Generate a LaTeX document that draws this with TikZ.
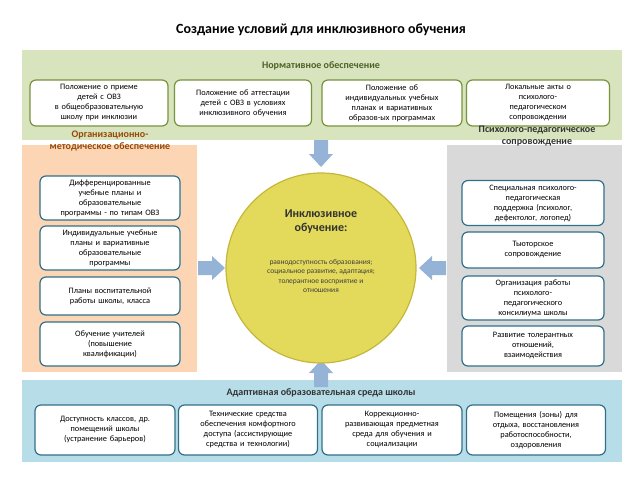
\documentclass[tikz,border=0pt]{standalone}
\usepackage{fontspec}
\setmainfont{Carlito}
\usetikzlibrary{positioning}
\definecolor{normfill}{HTML}{D7E4BD}
\definecolor{normline}{HTML}{77933C}
\definecolor{normtext}{HTML}{4F6228}
\definecolor{orgfill}{HTML}{FCD5B5}
\definecolor{orgtext}{HTML}{984807}
\definecolor{psyfill}{HTML}{D9D9D9}
\definecolor{envfill}{HTML}{B7DDE8}
\definecolor{boxline}{HTML}{31708A}
\definecolor{arrowblue}{HTML}{95B3D7}
\definecolor{circfill}{HTML}{E3D95A}
\definecolor{circline}{HTML}{C4B73C}
\tikzset{
  item/.style={draw=boxline, line width=1.2pt, rounded corners=6pt, fill=white,
    align=center, inner sep=1pt, font=\fontsize{8.3}{10}\selectfont},
  normitem/.style={item, draw=normline},
  bandtitle/.style={font=\fontsize{10}{12}\selectfont\bfseries, align=center},
}
\newcommand{\blockarrow}[2]{% start, direction
  \fill[arrowblue, shift={(#1)}, rotate=#2] (0,-7) -- (14,-7) -- (14,-12) -- (27,0) -- (14,12) -- (14,7) -- (0,7) -- cycle;}
\begin{document}
\begin{tikzpicture}[x=1pt, y=-1pt]
\useasboundingbox (0,0) rectangle (643,482);

% Title
\node[font=\fontsize{14}{16}\selectfont\bfseries] (title) at (321,30) {Создание условий для инклюзивного обучения};

% Bands and panels
\fill[normfill] (22,50) rectangle (622,140);
\fill[orgfill] (22,145) rectangle (197,372);
\fill[psyfill] (447,145) rectangle (622,372);
\fill[envfill] (22,380) rectangle (622,462);

% Arrows
\blockarrow{321,140}{-90}
\blockarrow{321,387}{90}
\blockarrow{198,268}{0}
\blockarrow{446,268}{180}

% Centre
\node[circle, fill=circfill, draw=circline, line width=1.2pt, minimum size=190pt] (centre) at (321,268) {};
\node[font=\fontsize{12}{14}\selectfont\bfseries, align=center, text=black!80] (centretitle) at (321,222) {Инклюзивное\\обучение:};
\node[font=\fontsize{7.5}{9.5}\selectfont, align=center, text=black!75] (centretext) at (321,276)
  {равнодоступность образования;\\социальное развитие, адаптация;\\толерантное восприятие и\\отношения};

% Normative
\node[bandtitle, text=normtext] (normtitle) at (321,66) {Нормативное обеспечение};
\node[normitem, minimum width=138pt, minimum height=46pt, text width=130pt] (norm1) at (99,103)
  {Положение о приеме\\детей с ОВЗ\\в общеобразовательную\\школу при инклюзии};
\node[normitem, minimum width=137pt, minimum height=46pt, text width=130pt] (norm2) at (243,103)
  {Положение об аттестации\\детей с ОВЗ в условиях\\инклюзивного обучения};
\node[normitem, minimum width=140pt, minimum height=46pt, text width=132pt] (norm3) at (392,103)
  {Положение об\\индивидуальных учебных\\планах и вариативных\\образов-ых программах};
\node[normitem, minimum width=143pt, minimum height=46pt, text width=135pt] (norm4) at (538,103)
  {Локальные акты о\\психолого-\\педагогическом\\сопровождении};

% Organisational
\node[bandtitle, text=orgtext] (orgtitle) at (110,141) {Организационно-\\методическое обеспечение};
\node[item, minimum width=140pt, minimum height=44pt, text width=134pt] (org1) at (110,198)
  {Дифференцированные\\учебные планы и\\образовательные\\программы - по типам ОВЗ};
\node[item, minimum width=140pt, minimum height=44pt, text width=134pt] (org2) at (110,248)
  {Индивидуальные учебные\\планы и вариативные\\образовательные\\программы};
\node[item, minimum width=140pt, minimum height=38pt, text width=134pt] (org3) at (110,296)
  {Планы воспитательной\\работы школы, класса};
\node[item, minimum width=140pt, minimum height=44pt, text width=134pt] (org4) at (110,344)
  {Обучение учителей\\(повышение\\квалификации)};

% Psychological
\node[bandtitle, text=black!80] (psytitle) at (537,136) {Психолого-педагогическое\\сопровождение};
\node[item, minimum width=142pt, minimum height=45pt, text width=136pt] (psy1) at (533,203)
  {Специальная психолого-\\педагогическая\\поддержка (психолог,\\дефектолог, логопед)};
\node[item, minimum width=142pt, minimum height=36pt, text width=136pt] (psy2) at (533,250)
  {Тьюторское\\сопровождение};
\node[item, minimum width=142pt, minimum height=44pt, text width=136pt] (psy3) at (533,298)
  {Организация работы\\психолого-\\педагогического\\консилиума школы};
\node[item, minimum width=142pt, minimum height=40pt, text width=136pt] (psy4) at (533,346)
  {Развитие толерантных\\отношений,\\взаимодействия};

% Environment
\node[bandtitle, text=black!80] (envtitle) at (321,393) {Адаптивная образовательная среда школы};
\node[item, minimum width=140pt, minimum height=50pt, text width=134pt] (env1) at (105,430)
  {Доступность классов, др.\\помещений школы\\(устранение барьеров)};
\node[item, minimum width=139pt, minimum height=50pt, text width=133pt] (env2) at (248,430)
  {Технические средства\\обеспечения комфортного\\доступа (ассистирующие\\средства и технологии)};
\node[item, minimum width=140pt, minimum height=50pt, text width=134pt] (env3) at (392,430)
  {Коррекционно-\\развивающая предметная\\среда для обучения и\\социализации};
\node[item, minimum width=139pt, minimum height=50pt, text width=133pt] (env4) at (536,430)
  {Помещения (зоны) для\\отдыха, восстановления\\работоспособности,\\оздоровления};
\end{tikzpicture}
\end{document}
